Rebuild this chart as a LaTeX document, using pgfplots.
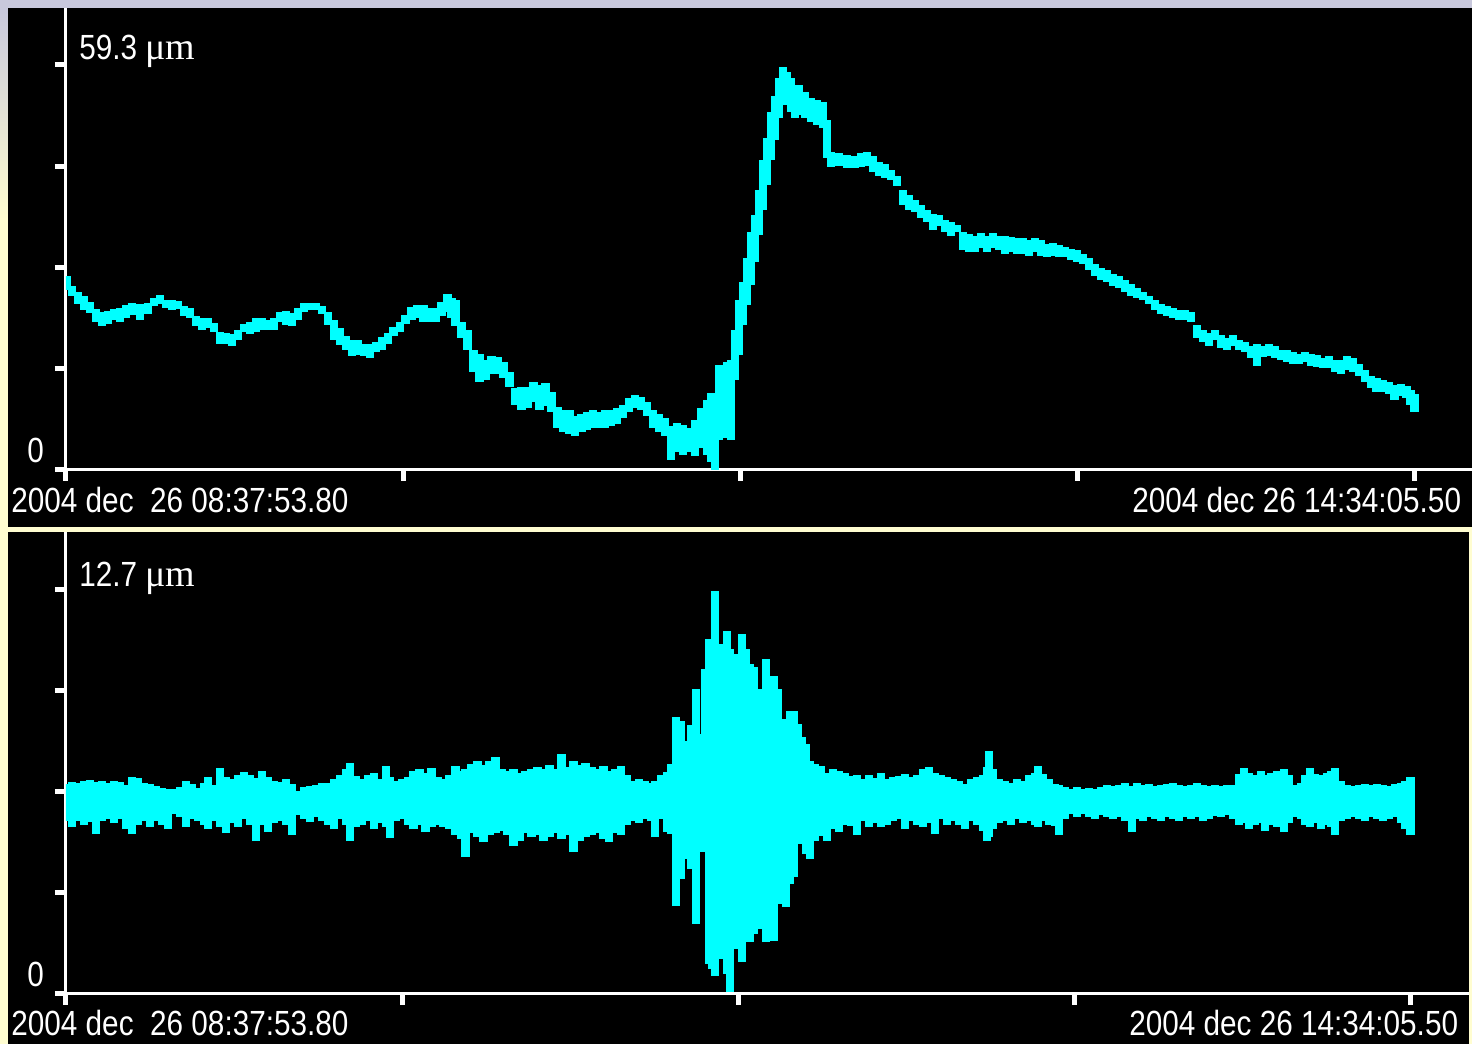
\documentclass[border=0pt]{standalone}
\usepackage{pgfplots}
\pgfplotsset{compat=1.18}
\usepackage{pgfplotstable}
\usepackage{fontspec}
\setmainfont{Liberation Sans}[FakeStretch=0.85]
\newfontfamily\umfont{Liberation Serif}
\definecolor{cream}{RGB}{255,253,208}
\definecolor{lav}{RGB}{200,200,220}
\definecolor{trace}{RGB}{0,255,255}

% upper panel: displacement envelope (micrometre), t in minutes after 08:37:53.80
\pgfplotstableread{
t hi lo
0.26 28.41 26.36
1.58 26.94 25.48
3.17 26.06 24.31
4.75 25.48 23.43
6.33 24.60 22.99
7.92 23.57 21.67
9.50 23.13 21.08
11.08 23.28 21.38
12.66 23.57 21.96
14.25 23.72 21.67
15.83 24.16 22.26
17.41 24.45 22.70
19.52 24.31 21.96
21.64 24.45 22.84
23.22 25.18 24.01
24.80 25.62 24.31
26.39 24.89 23.72
27.97 24.89 23.43
29.55 24.74 23.57
31.13 24.01 22.55
32.72 23.72 22.26
34.30 22.55 21.08
35.88 22.26 20.50
37.47 22.26 20.79
39.05 21.52 20.21
40.63 20.21 18.45
42.22 20.06 18.45
43.80 19.91 18.16
45.38 20.50 19.03
46.97 21.38 20.21
48.55 21.67 19.91
50.13 22.26 20.21
51.71 22.26 20.50
53.30 21.96 20.50
54.88 22.26 20.50
56.46 23.13 21.67
58.05 23.28 21.23
59.63 22.99 21.08
61.21 23.72 21.96
62.80 24.45 23.13
64.38 24.45 23.43
65.96 24.45 23.43
67.55 24.01 22.84
69.13 23.13 21.23
70.71 21.96 19.03
72.29 20.79 18.30
73.88 19.62 17.57
75.46 19.03 16.69
77.04 19.03 16.84
78.63 18.45 16.69
80.21 18.45 16.40
81.79 18.74 17.28
83.38 19.47 17.57
84.96 20.06 18.45
86.54 20.94 19.62
88.13 21.67 20.21
89.71 22.70 21.38
91.29 23.87 21.96
92.88 24.16 22.26
94.46 24.16 21.67
96.04 23.72 21.67
97.62 23.72 21.67
99.21 24.60 22.55
100.79 25.77 23.13
101.85 25.18 22.26
102.90 24.89 21.08
104.48 21.67 19.33
106.07 20.50 17.57
107.65 17.57 14.35
109.23 16.98 12.88
110.82 16.11 13.18
112.40 16.69 14.06
113.98 16.55 14.06
115.57 15.81 13.47
117.15 14.35 12.15
118.73 12.01 9.52
120.32 12.15 8.79
121.90 12.15 9.08
123.48 12.88 9.96
125.06 12.45 8.79
126.65 12.74 9.37
128.23 11.42 8.49
129.81 9.22 6.15
131.40 8.79 5.56
132.98 8.79 5.27
134.56 7.91 4.98
136.15 8.20 5.56
137.73 8.49 5.86
139.31 8.79 6.15
140.90 8.49 6.15
142.48 8.79 6.15
144.06 8.79 6.44
145.64 9.08 6.74
147.23 9.52 7.61
148.81 10.54 8.49
150.39 10.98 9.08
151.98 10.69 8.79
153.56 9.96 7.91
155.14 8.79 6.15
156.73 8.20 5.56
158.31 7.61 4.98
159.89 6.44 1.46
161.48 6.88 2.64
163.06 6.59 2.20
164.64 6.15 2.64
166.23 7.32 2.05
167.81 9.08 3.22
169.39 10.25 2.20
170.45 11.27 1.17
171.51 10.25 0.00
172.56 15.37 4.39
173.62 14.64 4.69
174.67 15.81 5.86
175.73 16.11 4.39
176.78 20.50 13.18
177.84 24.89 16.84
178.89 27.53 21.23
179.95 31.04 24.16
181.00 34.85 27.09
182.06 37.34 30.46
183.11 41.00 34.41
184.17 45.39 38.07
185.22 48.61 41.73
186.28 52.42 45.39
187.33 54.76 48.32
188.39 57.40 51.54
189.44 59.01 54.18
190.50 58.28 53.44
191.56 57.40 52.42
192.61 55.93 51.54
193.67 56.37 51.98
195.25 55.35 51.54
196.83 54.47 50.95
198.42 54.18 50.51
200.00 53.88 50.08
201.06 51.25 45.68
202.11 46.56 44.36
204.22 46.42 44.51
206.33 46.12 44.22
208.44 45.98 44.22
210.03 46.42 44.36
211.61 46.56 44.51
213.19 45.98 43.63
214.77 45.10 43.05
216.36 44.80 42.75
217.94 43.93 42.46
219.52 43.05 41.58
221.11 41.00 38.80
222.69 40.27 38.07
224.27 39.53 37.78
225.86 38.80 36.90
227.44 38.07 36.31
229.02 37.48 35.14
230.60 37.34 35.73
232.19 36.61 34.85
233.77 36.31 34.26
235.35 35.87 34.85
236.94 34.85 32.21
238.52 34.55 31.92
240.10 34.26 31.92
241.69 34.70 32.51
243.27 34.26 31.92
244.85 34.70 32.51
246.44 34.26 32.21
248.02 34.26 31.63
249.60 34.12 31.92
251.19 33.97 31.63
252.77 33.97 31.63
254.35 33.68 31.33
255.93 33.97 31.92
257.52 33.68 31.33
259.10 33.09 31.19
260.68 33.24 31.33
262.27 32.94 31.19
263.85 32.65 31.19
265.43 32.36 30.75
267.02 32.21 30.46
268.60 31.63 30.16
270.18 31.04 29.28
271.77 30.16 28.41
273.35 29.58 27.82
274.93 29.28 27.53
276.51 28.70 26.94
278.10 28.41 26.65
279.68 27.82 26.06
281.26 27.23 25.48
282.85 26.65 25.18
284.43 26.06 24.89
286.01 25.48 24.31
287.60 24.89 23.43
289.18 24.31 22.84
290.76 24.01 22.55
292.35 23.72 22.26
293.93 23.43 21.96
295.51 23.43 21.96
297.10 23.13 21.67
298.68 21.23 19.33
300.26 20.50 18.74
301.84 20.06 18.16
303.43 20.50 19.03
305.01 19.77 17.86
306.59 19.33 17.57
308.18 19.77 18.16
309.76 19.03 17.57
311.34 18.74 17.28
312.93 18.16 16.40
314.51 18.45 15.23
316.09 18.16 16.55
317.68 18.45 16.69
319.26 18.16 16.40
320.84 17.57 16.11
322.42 17.57 15.81
324.01 17.28 15.52
325.59 16.98 15.52
327.17 17.28 15.81
328.76 16.98 15.23
330.34 16.84 15.08
331.92 16.40 14.93
333.51 16.69 14.93
335.09 16.11 14.35
336.67 16.11 14.06
338.26 16.69 14.64
339.84 16.40 14.35
341.42 15.52 13.76
343.01 14.64 12.88
344.59 13.76 12.01
346.17 13.47 11.42
347.76 13.18 11.42
349.34 12.88 11.13
350.92 12.45 10.25
352.51 12.59 10.83
354.09 12.30 10.54
355.14 11.71 9.52
356.20 11.13 8.49
}\topdata

% lower panel: envelope (micrometre)
\pgfplotstableread{
t hi lo
0.00 6.59 5.42
1.59 6.65 5.24
3.18 6.62 5.42
4.76 6.68 5.30
6.35 6.71 5.39
7.94 6.65 5.02
9.53 6.68 5.42
11.11 6.62 5.49
12.70 6.68 5.36
14.29 6.65 5.49
15.88 6.55 5.17
17.47 6.80 5.02
19.05 6.77 5.30
20.64 6.62 5.42
22.23 6.59 5.24
23.82 6.52 5.42
25.41 6.46 5.30
26.99 6.43 5.17
28.58 6.43 5.64
30.17 6.49 5.55
31.76 6.68 5.24
33.34 6.59 5.49
34.93 6.46 5.42
36.52 6.62 5.30
37.58 6.80 5.17
39.17 6.55 5.42
40.75 7.09 5.24
42.34 6.80 5.05
43.93 6.74 5.36
45.52 6.87 5.24
47.11 6.96 5.49
48.69 6.87 5.30
50.28 6.77 4.80
51.87 6.99 5.30
53.46 6.80 5.08
55.05 6.68 5.36
56.63 6.65 5.42
58.22 6.74 5.30
59.81 6.59 4.99
61.40 6.37 5.61
62.98 6.49 5.49
64.57 6.52 5.39
66.16 6.55 5.55
67.75 6.62 5.42
69.34 6.62 5.30
70.92 6.74 5.17
72.51 6.87 5.49
74.10 7.06 5.30
75.16 7.24 4.80
76.74 6.84 5.24
78.33 6.74 5.30
79.92 6.87 5.42
81.51 6.93 5.17
83.10 6.74 5.36
84.68 7.15 5.24
85.74 6.80 4.89
87.33 6.68 5.42
88.92 6.74 5.49
90.51 6.80 5.30
92.09 6.99 5.17
93.68 7.06 5.30
95.27 6.93 5.08
96.86 7.09 5.24
98.45 6.80 5.30
100.03 6.74 5.24
101.62 6.87 5.17
103.21 7.15 4.99
104.80 6.99 4.86
105.86 7.06 4.30
107.44 7.21 5.05
109.03 7.31 4.92
110.62 7.18 4.77
112.21 7.31 4.99
113.80 7.43 5.05
115.38 7.06 5.11
116.97 6.99 4.99
118.56 7.06 4.64
120.15 6.93 4.80
121.73 6.99 5.05
123.32 7.06 4.92
124.91 7.12 4.99
126.50 7.06 4.80
128.09 7.18 4.92
129.67 7.06 5.05
131.26 7.53 4.86
132.85 7.12 4.99
134.44 7.31 4.45
136.03 7.18 4.80
137.61 7.24 4.92
139.20 7.12 4.99
140.79 7.06 5.05
142.38 7.15 4.86
143.96 6.99 4.77
145.55 7.06 5.05
147.14 7.15 4.99
148.73 6.87 5.30
150.32 6.68 5.42
151.90 6.74 5.36
153.49 6.68 5.49
155.08 6.62 5.42
156.14 6.68 4.92
157.73 6.87 5.49
159.31 6.96 5.08
160.37 7.21 5.02
161.69 8.69 2.76
163.02 8.56 3.61
164.34 7.93 4.23
165.66 8.44 3.92
166.99 9.56 2.20
168.31 8.15 4.45
169.37 10.19 4.55
170.43 11.13 0.94
171.22 10.66 0.78
172.02 12.64 0.56
173.07 10.82 1.10
174.13 10.98 1.57
175.19 11.38 0.63
175.99 10.82 0.06
177.04 10.66 2.57
178.10 10.66 1.41
179.16 11.29 1.00
180.22 10.82 2.20
181.28 10.35 1.63
182.34 10.25 1.88
183.40 9.56 2.45
184.45 9.50 2.04
185.51 10.50 1.63
186.57 9.88 2.20
187.63 9.97 1.66
188.69 9.56 2.82
189.75 8.62 4.30
190.81 8.00 2.73
191.86 8.87 3.45
192.92 8.87 3.67
193.98 8.47 4.70
195.04 8.06 5.08
196.10 7.84 4.39
197.16 7.31 4.23
198.48 7.21 4.80
200.07 7.15 4.95
201.66 6.93 4.80
203.24 7.06 5.17
204.83 6.99 5.08
206.42 6.93 5.30
208.01 6.84 5.27
209.59 6.87 4.99
211.18 6.74 5.42
212.77 6.87 5.24
214.36 6.77 5.36
215.95 6.93 5.24
217.53 6.74 5.30
219.12 6.80 5.42
220.71 6.84 5.49
222.30 6.90 5.17
223.89 6.80 5.42
225.47 6.87 5.30
227.06 7.06 5.24
228.65 7.12 5.36
230.24 6.93 5.02
231.82 6.87 5.49
233.41 6.80 5.30
235.00 6.74 5.42
236.59 6.68 5.30
238.18 6.59 5.17
239.76 6.74 5.42
241.35 6.80 5.30
242.94 6.87 5.11
244.00 7.12 4.80
244.53 7.62 4.92
245.59 7.06 5.17
247.17 6.74 5.36
248.76 6.68 5.42
250.35 6.62 5.30
251.94 6.74 5.49
253.53 6.68 5.36
255.11 6.87 5.42
256.70 6.93 5.30
257.49 7.15 5.24
258.82 6.90 5.42
260.40 6.74 5.30
261.99 6.59 5.27
263.05 6.55 4.99
264.64 6.49 5.49
266.22 6.43 5.64
267.81 6.49 5.55
269.40 6.43 5.64
270.99 6.46 5.55
272.58 6.43 5.49
274.16 6.49 5.61
275.75 6.55 5.55
277.34 6.52 5.49
278.93 6.55 5.55
280.52 6.62 5.42
282.37 6.52 5.08
283.69 6.62 5.49
285.28 6.55 5.42
286.87 6.59 5.55
288.46 6.52 5.49
290.05 6.55 5.42
291.63 6.59 5.55
293.22 6.62 5.49
294.81 6.55 5.42
296.40 6.52 5.55
297.99 6.55 5.49
299.57 6.62 5.55
301.16 6.55 5.42
302.75 6.52 5.49
304.34 6.55 5.58
305.92 6.52 5.55
307.51 6.55 5.61
309.10 6.55 5.49
310.69 6.90 5.30
312.01 7.09 5.36
313.34 6.93 5.17
314.92 6.87 5.30
316.51 6.99 5.36
317.57 6.87 5.11
319.16 6.93 5.30
320.74 6.99 5.24
322.60 7.06 5.08
323.92 6.87 5.36
325.51 6.55 5.55
327.10 6.62 5.49
328.15 6.87 5.30
329.48 7.09 5.24
330.80 6.90 5.36
332.39 6.87 5.17
333.98 6.93 5.30
335.04 6.99 5.24
336.09 7.09 4.99
337.68 6.68 5.42
339.27 6.55 5.49
340.86 6.52 5.55
342.44 6.55 5.49
344.03 6.59 5.42
345.62 6.55 5.55
347.21 6.59 5.49
348.80 6.55 5.42
350.38 6.52 5.49
351.97 6.59 5.55
353.56 6.62 5.36
354.88 6.68 5.17
356.20 6.80 4.99
}\botdata

\pgfplotsset{
  seis/.style={
    scale only axis,
    anchor=south west,
    axis x line=bottom, axis y line=left,
    axis line style={white, line width=1.5pt, -},
    tick align=outside,
    major tick length=5.5pt,
    tick style={white, line width=2.5pt},
    xticklabels={}, yticklabels={},
    xmin=0,
    xtick={0,89.05,178.1,267.15,356.2},
  },
  band/.style={draw=none, mark=none,
    error bars/.cd, y dir=plus, y explicit, error mark=none,
    error bar style={draw=trace, line width=4.1pt}},
}

\begin{document}
\begin{tikzpicture}
\begin{scope}[x=0.5pt,y=-0.5pt]
\path[use as bounding box] (0,0) rectangle (1473,1045);
\fill[cream] (0,0) rectangle (1473,1045);
\fill[lav] (0,0) rectangle (1473,8);
\shade[top color=lav, bottom color=cream] (0,8) rectangle (8,220);
\fill[black] (8,8) rectangle (1473,528);
\fill[black] (8,533) rectangle (1470,1045);
\end{scope}

\begin{axis}[seis,
  at={(33pt,-235pt)},
  width=703.5pt, height=231pt,
  xmax=371.24, ymin=0, ymax=67.65,
  ytick={0,14.825,29.65,44.475,59.3}]
\addplot[band] table[x=t, y=lo, y error expr=\thisrow{hi}-\thisrow{lo}] {\topdata};
\end{axis}

\begin{axis}[seis,
  at={(33pt,-497.5pt)},
  width=702pt, height=231pt,
  xmax=371.55, ymin=0, ymax=14.487,
  ytick={0,3.175,6.35,9.525,12.7}]
\addplot[band] table[x=t, y=lo, y error expr=\thisrow{hi}-\thisrow{lo}] {\botdata};
\end{axis}

\begin{scope}[x=0.5pt,y=-0.5pt, every node/.style={text=white, inner sep=0pt, font=\fontsize{17.5pt}{20pt}\selectfont}]
\node[anchor=base west] at (79,60) {59.3 {\umfont\fontsize{19pt}{20pt}\selectfont μm}};
\node[anchor=base west] at (27,463) {0};
\node[anchor=base west] at (11,513) {2004 dec\ \ 26 08:37:53.80};
\node[anchor=base west] at (1133,513) {2004 dec 26 14:34:05.50};
\node[anchor=base west] at (79,587) {12.7 {\umfont\fontsize{19pt}{20pt}\selectfont μm}};
\node[anchor=base west] at (27,987) {0};
\node[anchor=base west] at (11,1037) {2004 dec\ \ 26 08:37:53.80};
\node[anchor=base west] at (1130,1037) {2004 dec 26 14:34:05.50};
\end{scope}
\end{tikzpicture}
\end{document}
